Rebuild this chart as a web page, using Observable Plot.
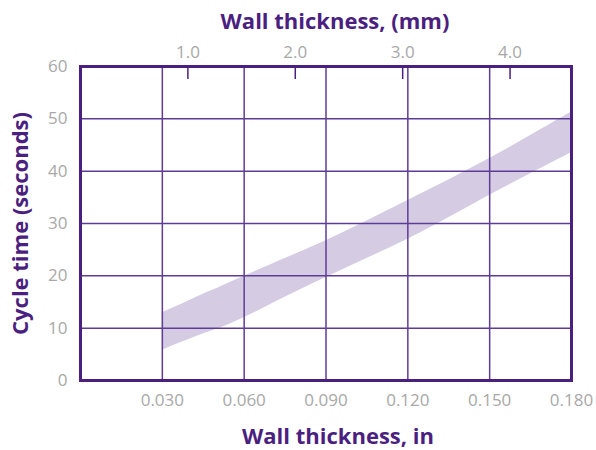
<!DOCTYPE html>
<html><head><meta charset="utf-8">
<script src="https://cdn.jsdelivr.net/npm/d3@7"></script>
<script src="https://cdn.jsdelivr.net/npm/@observablehq/plot@0.6"></script>
<style>body{margin:0;background:#fff}</style>
</head><body><div id="chart"></div>
<script>
const thicknessIn = [0.030, 0.035, 0.040, 0.045, 0.050, 0.060, 0.075, 0.090, 0.105, 0.120, 0.135, 0.150, 0.165, 0.180];
const cycleUpper  = [13.0, 14.1, 15.3, 16.5, 17.6, 19.9, 23.3, 26.7, 30.5, 34.4, 38.3, 42.4, 46.8, 51.3];
const cycleLower  = [5.8, 6.9, 7.9, 8.9, 9.8, 12.0, 15.9, 19.7, 23.3, 27.0, 31.1, 35.4, 39.5, 43.5];
const xTicks = [0.030, 0.060, 0.090, 0.120, 0.150, 0.180];
const yTicks = [0, 10, 20, 30, 40, 50, 60];
const mmTicks = [1.0, 2.0, 3.0, 4.0];
const MM_TO_IN = 0.03937;

const band = thicknessIn.map((x, i) => ({x, lo: cycleLower[i], hi: cycleUpper[i]}));
const purple = "#4b1f80";
const gridColor = "#5e3c96";
const gray = "#a8a8a8";
const W = 596, H = 450, mT = 66, mB = 70;

const chart = Plot.plot({
  width: W, height: H,
  marginLeft: 80, marginRight: 25, marginTop: mT, marginBottom: mB,
  style: {fontFamily: "'Open Sans', sans-serif", background: "#fff"},
  x: {domain: [0, 0.18]},
  y: {domain: [0, 60]},
  marks: [
    Plot.areaY(band, {x: "x", y1: "lo", y2: "hi", fill: "#d5cce3", curve: "catmull-rom"}),
    Plot.gridX(xTicks, {stroke: gridColor, strokeOpacity: 1, strokeWidth: 1.5}),
    Plot.gridY(yTicks, {stroke: gridColor, strokeOpacity: 1, strokeWidth: 1.5}),
    Plot.frame({stroke: purple, strokeWidth: 3}),
    Plot.tickX(mmTicks.map(m => m * MM_TO_IN), {x: d => d, stroke: purple, strokeWidth: 1.5, insetBottom: H - mT - mB - 13}),
    Plot.axisX(xTicks, {anchor: "bottom", tickSize: 0, tickPadding: 13, fontSize: 17, fill: gray, letterSpacing: "1.5px",
      tickFormat: d => d.toFixed(3), label: null}),
    Plot.axisX(mmTicks.map(m => m * MM_TO_IN), {anchor: "top", tickSize: 0, tickPadding: 9, fontSize: 17, fill: gray, letterSpacing: "1.5px",
      tickFormat: d => (d / MM_TO_IN).toFixed(1), label: null}),
    Plot.axisY(yTicks, {anchor: "left", tickSize: 0, tickPadding: 13, fontSize: 17, fill: gray, letterSpacing: "1.5px",
      tickFormat: d => String(d), label: null}),
    Plot.text(["Wall thickness, (mm)"], {frameAnchor: "top", lineAnchor: "middle", textAnchor: "middle", dy: -45, dx: 9, fontSize: 22, fontWeight: "bold", fill: purple}),
    Plot.text(["Wall thickness, in"], {frameAnchor: "bottom", lineAnchor: "middle", textAnchor: "middle", dy: 56, dx: 12, fontSize: 22, fontWeight: "bold", fill: purple}),
    Plot.text(["Cycle time (seconds)"], {frameAnchor: "left", lineAnchor: "middle", textAnchor: "middle", dx: -60, rotate: -90, fontSize: 22, fontWeight: "bold", fill: purple})
  ]
});
document.getElementById("chart").append(chart);
</script>
</body></html>
